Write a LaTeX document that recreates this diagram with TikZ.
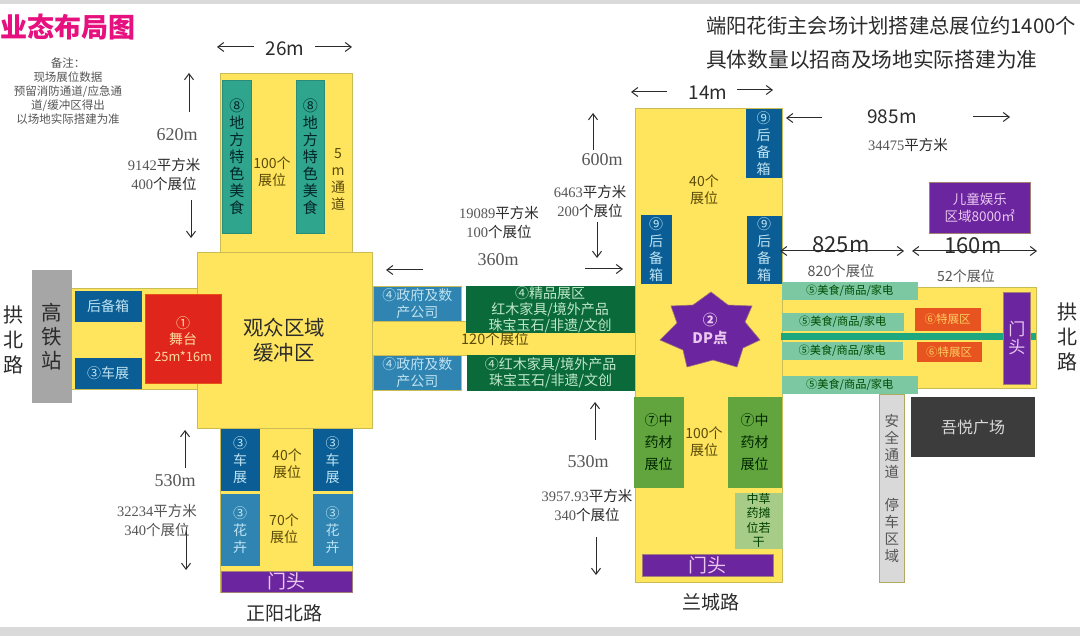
\documentclass[tikz,border=0pt]{standalone}
\usepackage{fontspec}
\setmainfont{Noto Sans CJK SC}
\newfontfamily\serifnum{Liberation Serif}
\usetikzlibrary{arrows.meta}
\definecolor{yel}{HTML}{FFE45E}
\definecolor{yedge}{HTML}{C9BC55}
\definecolor{teal1}{HTML}{2FA58E}
\definecolor{bluedk}{HTML}{0A5E95}
\definecolor{bluemd}{HTML}{2F84B2}
\definecolor{greendk}{HTML}{0B6A3A}
\definecolor{greenmd}{HTML}{62A53E}
\definecolor{greenlt}{HTML}{A6CC88}
\definecolor{mint}{HTML}{7CC8A2}
\definecolor{stripe}{HTML}{1FA77F}
\definecolor{purp}{HTML}{6A259F}
\definecolor{redst}{HTML}{E0261C}
\definecolor{orng}{HTML}{E8541F}
\definecolor{grayst}{HTML}{A6A6A6}
\definecolor{graylane}{HTML}{D9D9D9}
\definecolor{graydk}{HTML}{3C3C3C}
\definecolor{bar}{HTML}{DADADA}
\definecolor{pinkt}{HTML}{E6107F}
\definecolor{inkdk}{HTML}{2B2B2B}
\definecolor{inkmd}{HTML}{555555}
\definecolor{lightb}{HTML}{BFE3F2}
\definecolor{lightg}{HTML}{BEE8C8}
\definecolor{lightp}{HTML}{EBC8F0}
\definecolor{oliv}{HTML}{5A4A08}
\newcommand\fs[2]{\fontsize{#1}{#2}\selectfont}
\newcommand\bx[7]{\node[#6,anchor=north west,inner sep=0pt,align=center,minimum width={(#4-#2)*1pt},minimum height={(#5-#3)*1pt}] (#1) at (#2,#3) {#7};}
\newcommand\arr[5]{\coordinate (#1a) at (#2,#3);\coordinate (#1b) at (#4,#5);\draw[dimarrow] (#1a) -- (#1b);}
\tikzset{
  yzone/.style={fill=yel,draw=yedge,line width=.8pt},
  dimarrow/.style={-{Straight Barb[length=6pt,width=9pt]},draw=inkdk,line width=1pt},
  tealbar/.style={fill=teal1,draw=teal1!85!black,line width=.5pt,text=black!70!teal,font=\fs{15}{17}},
  bluebox/.style={fill=bluedk,draw=bluedk,text=lightb,font=\fs{14}{17}},
  flowerbox/.style={fill=bluemd,draw=bluemd,text=lightb,font=\fs{14}{17}},
  govbox/.style={fill=bluemd,draw=yedge,line width=.5pt,text=lightb,font=\fs{14}{17}},
  greenbox/.style={fill=greendk,draw=greendk,text=lightg,font=\fs{14}{16}},
  herbbox/.style={fill=greenmd,draw=greenmd,text=black!85!green,font=\fs{14}{22}},
  herblt/.style={fill=greenlt,draw=greenlt,text=black!75!green,font=\fs{12}{14.5}},
  mintbox/.style={fill=mint,draw=mint,text=black!70!green,font=\fs{11.2}{13}},
  orbox/.style={fill=orng,draw=orng,text=yellow!40!orange!60!white,font=\fs{11.5}{13}},
  purpbox/.style={fill=purp,draw=yedge!60!purp,line width=.5pt,text=lightp,font=\fs{19}{20}},
  darktxt/.style={text=oliv,font=\fs{14}{17},align=center,inner sep=0pt},
  dimtxt/.style={text=inkdk,font=\fs{14.5}{19},align=center,inner sep=0pt},
  numtxt/.style={text=inkmd,font=\serifnum\fs{18}{20},inner sep=0pt},
  sizetxt/.style={text=inkdk,font=\fs{19}{20},inner sep=0pt},
  roadtxt/.style={text=inkdk,font=\fs{20}{25},align=center,inner sep=0pt},
  bigtxt/.style={text=inkdk,font=\fs{20.3}{34},inner sep=0pt,anchor=west},
}
\newcommand\dg[1]{{\serifnum\color{inkmd}#1}}
\begin{document}
\begin{tikzpicture}[x=1pt,y=-1pt]
\useasboundingbox (0,0) rectangle (1080,636);
\fill[white] (0,0) rectangle (1080,636);
\bx{topbar}{0}{0}{1080}{4}{fill=bar}{}
\bx{botbar}{0}{627}{1080}{636}{fill=bar}{}
% texts top
\node[text=pinkt,font=\bfseries\fs{27}{30},inner sep=0pt,anchor=west] (title) at (0,27) {业态布局图};
\node[text=inkmd,font=\fs{11.5}{14},align=center,inner sep=0pt] (note) at (68,91) {备注：\\现场展位数据\\预留消防通道/应急通\\道/缓冲区得出\\以场地实际搭建为准};
\node[bigtxt] (head1) at (706,26) {端阳花街主会场计划搭建总展位约1400个};
\node[bigtxt,font=\fs{20.7}{34}] (head2) at (706,60) {具体数量以招商及场地实际搭建为准};
% yellow zones
\bx{ytop}{220}{73}{352}{252}{yzone}{}
\bx{yleft}{71}{288}{197}{389}{yzone}{}
\bx{ylow}{220}{428}{352}{592}{yzone}{}
\bx{ymid}{372}{321}{635}{355}{yzone}{}
\bx{yright}{782}{287}{1036}{388}{yzone}{}
\bx{ycol}{635}{108}{782}{582}{yzone}{}
\bx{ymain}{197}{252}{372}{428}{yzone}{}
% top block
\bx{food1}{222}{80}{251}{233}{tealbar}{⑧\\地\\方\\特\\色\\美\\食}
\bx{food2}{296}{80}{324}{233}{tealbar}{⑧\\地\\方\\特\\色\\美\\食}
\node[darktxt] (t100a) at (272,172) {100个\\展位};
\node[darktxt,font=\fs{14}{17}] (lane5) at (338,179) {5\\m\\通\\道};
% left block
\bx{gsta}{32}{270}{71}{402}{fill=grayst,draw=grayst,text=inkdk,font=\fs{20.5}{24}}{高\\铁\\站}
\bx{back0}{75}{291}{141}{321}{bluebox}{后备箱}
\bx{car0}{75}{358}{141}{388}{bluebox}{③车展}
\bx{stage}{145}{294}{221}{383}{fill=redst,draw=redst!80!yellow,text=yellow!30!orange!35!white,font=\fs{14}{16.5}}{①\\舞台\\{\fs{12.8}{16.5}25m*16m}}
\node[text=inkdk,font=\fs{20.5}{25},align=center,inner sep=0pt] (aud) at (284,340) {观众区域\\缓冲区};
% lower block
\bx{car1}{221}{429}{259}{490}{bluebox}{③\\车\\展}
\bx{car2}{313}{429}{352}{490}{bluebox}{③\\车\\展}
\bx{flow1}{221}{494}{259}{565}{flowerbox}{③\\花\\卉}
\bx{flow2}{313}{494}{352}{565}{flowerbox}{③\\花\\卉}
\node[darktxt] (t40a) at (287,464) {40个\\展位};
\node[darktxt] (t70) at (284,529) {70个\\展位};
\bx{gate1}{221}{571}{352}{592}{purpbox}{门头}
\node[text=inkdk,font=\fs{19}{20},inner sep=0pt] (rd1) at (284,613) {正阳北路};
\node[roadtxt] (rdL) at (13,340) {拱\\北\\路};
% middle
\bx{gov1}{373}{286}{461}{321}{govbox}{④政府及数\\产公司}
\bx{gov2}{373}{355}{461}{390}{govbox}{④政府及数\\产公司}
\bx{grn1}{466}{286}{634}{330}{greenbox}{④精品展区\\红木家具/境外产品\\珠宝玉石/非遗/文创}
\bx{grn2}{467}{355}{634}{390}{greenbox}{④红木家具/境外产品\\珠宝玉石/非遗/文创}
\node[darktxt,font=\fs{14.5}{17}] (t120) at (495,339) {120个展位};
% right column
\bx{back1}{746}{109}{781}{177}{bluebox}{⑨\\后\\备\\箱}
\bx{back2}{641}{215}{671}{283}{bluebox}{⑨\\后\\备\\箱}
\bx{back3}{747}{216}{781}{283}{bluebox}{⑨\\后\\备\\箱}
\node[darktxt] (t40b) at (704,190) {40个\\展位};
\filldraw[fill=purp,draw=yedge!50!purp,line width=.6pt] (711,292) -- (728,305) -- (752,306) -- (745,322) -- (760,340) -- (743,348) -- (737,367) -- (713,360) -- (687,367) -- (683,350) -- (660,340) -- (677,323) -- (671,306) -- (693,305) -- cycle;
\node[text=lightp,font=\bfseries\fs{14.5}{18},align=center,inner sep=0pt] (dp) at (710,329) {②\\DP点};
\bx{herb1}{634}{397}{683}{487}{herbbox}{⑦中\\药材\\展位}
\bx{herb2}{728}{397}{781}{487}{herbbox}{⑦中\\药材\\展位}
\bx{herb3}{735}{493}{782}{547}{herblt}{中草\\药摊\\位若\\干}
\node[darktxt] (t100b) at (704,442) {100个\\展位};
\bx{gate2}{642}{554}{773}{576}{purpbox}{门头}
\node[text=inkdk,font=\fs{19}{20},inner sep=0pt] (rd2) at (711,602) {兰城路};
% right branch
\bx{mint1}{782}{282}{917}{299}{mintbox}{⑤美食/商品/家电}
\bx{mint2}{782}{313}{903}{330}{mintbox}{⑤美食/商品/家电}
\bx{stripebar}{781}{333}{1036}{340}{fill=stripe}{}
\bx{mint3}{782}{342}{902}{359}{mintbox}{⑤美食/商品/家电}
\bx{mint4}{782}{376}{917}{393}{mintbox}{⑤美食/商品/家电}
\bx{sp1}{915}{308}{980}{330}{orbox}{⑥特展区}
\bx{sp2}{917}{342}{981}{361}{orbox}{⑥特展区}
\bx{gate3}{1003}{292}{1030}{384}{purpbox,font=\fs{17}{18}}{门\\头}
\bx{kids}{929}{182}{1030}{233}{fill=purp,draw=yedge!60!purp,line width=.5pt,text=lightp,font=\fs{13.5}{16.5}}{儿童娱乐\\区域8000㎡}
\bx{lane}{879}{394}{904}{582}{fill=graylane,draw=yedge!70!gray,line width=.6pt,text=inkmd,font=\fs{14.5}{17}}{安\\全\\通\\道\\[16pt]停\\车\\区\\域}
\bx{mall}{911}{397}{1035}{457}{fill=graydk,text=white!85!black,font=\fs{16}{18}}{吾悦广场}
\node[roadtxt] (rdR) at (1067,337) {拱\\北\\路};
% dimension labels
\node[sizetxt] (d26) at (285,49) {26m};
\arr{a26l}{254}{47}{217}{47}
\arr{a26r}{315}{47}{352}{47}
\node[numtxt] (d620) at (177,135) {620m};
\arr{a620u}{189}{112}{189}{73}
\arr{a620d}{191}{200}{191}{238}
\node[dimtxt] (i620) at (164,174.5) {\dg{9142}平方米\\\dg{400}个展位};
\node[numtxt] (d530a) at (175,481) {530m};
\arr{a530u}{185}{468}{185}{430}
\arr{a530d}{186}{527}{186}{570}
\node[dimtxt,text=inkmd] (i530a) at (157,520) {\dg{32234}平方米\\\dg{340}个展位};
\node[sizetxt] (d14) at (708,93) {14m};
\arr{a14l}{667}{92}{631}{92}
\arr{a14r}{737}{90}{773}{90}
\node[sizetxt] (d985) at (892,117) {985m};
\arr{a985l}{822}{118}{786}{118}
\arr{a985r}{973}{117}{1010}{117}
\node[dimtxt] (i985) at (908,145) {\dg{34475}平方米};
\node[numtxt] (d600) at (602,160) {600m};
\arr{a600u}{593}{150}{593}{113}
\arr{a600d}{597}{222}{597}{258}
\node[dimtxt] (i600) at (590,201.5) {\dg{6463}平方米\\\dg{200}个展位};
\node[numtxt] (d360) at (498,260) {360m};
\arr{a360l}{423}{270}{386}{270}
\arr{a360r}{585}{269}{623}{269}
\node[dimtxt] (i360) at (499,222) {\dg{19089}平方米\\\dg{100}个展位};
\node[numtxt] (d530b) at (588,462) {530m};
\arr{a530bu}{595}{440}{595}{402}
\arr{a530bd}{596}{537}{596}{575}
\node[dimtxt] (i530b) at (587,505) {\dg{3957.93}平方米\\\dg{340}个展位};
\node[sizetxt,font=\fs{22}{24}] (d825) at (841,245) {825m};
\node[sizetxt,font=\fs{22}{24}] (d160) at (973,246) {160m};
\coordinate (a825a) at (780,251);\coordinate (a825b) at (904,251);
\draw[dimarrow,{Straight Barb[length=6pt,width=9pt]}-{Straight Barb[length=6pt,width=9pt]}] (a825a) -- (a825b);
\coordinate (a160a) at (912,251);\coordinate (a160b) at (1037,251);
\draw[dimarrow,{Straight Barb[length=6pt,width=9pt]}-{Straight Barb[length=6pt,width=9pt]}] (a160a) -- (a160b);
\node[dimtxt,font=\fs{14.3}{15},text=inkmd] (t820) at (841,271) {820个展位};
\node[dimtxt,font=\fs{14}{15},text=inkmd] (t52) at (966,276) {52个展位};
\end{tikzpicture}
\end{document}
